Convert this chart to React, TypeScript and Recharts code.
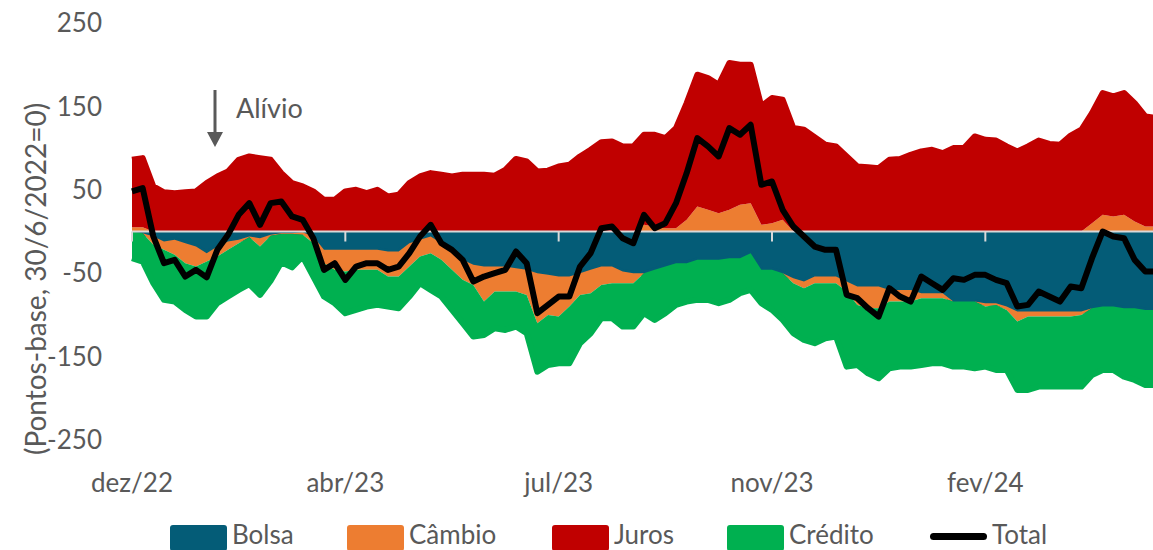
import { ComposedChart, Area, Line, XAxis, YAxis, ReferenceLine } from "recharts";

// Month labels sit every 20 points on the index axis
const TICK_INDEX = [0, 20, 40, 60, 80];
const TICK_LABELS = ["dez/22", "abr/23", "jul/23", "nov/23", "fev/24"];
const Y_TICKS = [-250, -150, -50, 50, 150, 250];

const BOLSA = [
  0, -2, -6, -12, -10, -14, -18, -26, -18, -12,
  -10, -6, -8, -4, -2, -2, -1, -6, -22, -22,
  -22, -22, -22, -22, -24, -24, -14, -10, -6, -14,
  -26, -34, -40, -42, -42, -42, -44, -46, -50, -52,
  -54, -54, -50, -46, -42, -42, -48, -50, -50, -46,
  -42, -38, -38, -34, -34, -34, -32, -32, -26, -46,
  -46, -50, -56, -60, -54, -54, -54, -60, -66, -66,
  -66, -70, -70, -70, -74, -74, -74, -84, -84, -84,
  -86, -86, -90, -96, -96, -96, -96, -96, -96, -96,
  -92, -90, -90, -92, -92, -94, -94,
];

const CAMBIO = [
  5, 5, -10, -10, -18, -24, -24, -10, -12, -10,
  -4, -1, -10, -1, -1, -1, -3, -8, -16, -24,
  -26, -24, -24, -24, -30, -30, -28, -20, -20, -20,
  -20, -24, -24, -42, -30, -30, -28, -30, -60, -48,
  -48, -36, -26, -28, -22, -20, -14, -12, 8, 6,
  4, 4, 14, 30, 26, 22, 26, 32, 34, 8,
  10, 14, -6, -8, -8, -8, -8, -12, -22, -26,
  -26, -14, -14, -14, -6, -6, -6, 0, 0, 0,
  -4, -2, -4, -12, -6, -6, -6, -6, -6, -4,
  10, 20, 18, 20, 12, 6, 6,
];

const JUROS = [
  81, 83, 54, 47, 46, 47, 48, 58, 66, 72,
  86, 90, 88, 86, 70, 58, 54, 48, 38, 38,
  48, 50, 46, 50, 42, 44, 58, 66, 70, 68,
  66, 68, 68, 68, 67, 74, 87, 84, 72, 73,
  78, 80, 90, 98, 107, 108, 102, 102, 108, 110,
  108, 120, 140, 158, 158, 154, 176, 168, 166, 142,
  150, 144, 124, 122, 113, 104, 102, 90, 78, 77,
  76, 86, 87, 92, 96, 98, 94, 100, 100, 114,
  110, 109, 102, 96, 102, 109, 105, 104, 115, 122,
  132, 146, 144, 146, 142, 132, 130,
];

const CREDITO = [
  -32, -34, -46, -60, -56, -56, -60, -66, -56, -56,
  -56, -56, -58, -54, -34, -40, -26, -40, -40, -40,
  -50, -48, -44, -42, -36, -38, -36, -32, -44, -44,
  -48, -52, -62, -40, -44, -46, -42, -46, -58, -60,
  -56, -68, -58, -48, -40, -42, -52, -52, -48, -60,
  -56, -50, -46, -48, -48, -52, -50, -42, -44, -40,
  -48, -56, -60, -62, -72, -66, -64, -90, -72, -78,
  -84, -80, -78, -78, -80, -78, -78, -78, -78, -80,
  -72, -78, -72, -82, -88, -84, -84, -84, -84, -86,
  -80, -76, -76, -82, -86, -90, -90,
];

const TOTAL = [
  48, 52, -6, -38, -34, -54, -46, -55, -22, -4,
  20, 34, 8, 34, 36, 18, 14, -8, -46, -38,
  -58, -42, -38, -38, -46, -42, -26, -6, 8, -14,
  -22, -34, -60, -54, -50, -46, -24, -38, -98, -88,
  -78, -78, -42, -26, 4, 6, -8, -14, 20, 4,
  10, 34, 70, 112, 102, 90, 124, 116, 128, 56,
  60, 26, 6, -6, -18, -22, -22, -76, -80, -92,
  -102, -68, -78, -84, -54, -62, -70, -56, -58, -52,
  -52, -58, -62, -90, -88, -72, -78, -84, -66, -68,
  -32, 0, -6, -8, -34, -48, -48,
];

// Câmbio is split by sign so it stacks above zero (under Juros) or below Bolsa
const NEG = -1e-6;
const data = TOTAL.map((total, i) => ({
  i,
  bolsa: Math.min(BOLSA[i], NEG),
  cambioPos: Math.max(CAMBIO[i], 0),
  cambioNeg: Math.min(CAMBIO[i], NEG),
  juros: JUROS[i],
  credito: CREDITO[i],
  total,
}));

const FONT = "Lato, 'Open Sans', sans-serif";
const TEXT = "#595959";
const C_BOLSA = "#045C77";
const C_CAMBIO = "#ED7D31";
const C_JUROS = "#C00000";
const C_CREDITO = "#00B050";

const AREAS = [
  { key: "bolsa", color: C_BOLSA, sw: 5 },
  { key: "cambioPos", color: C_CAMBIO, sw: 0 },
  { key: "cambioNeg", color: C_CAMBIO, sw: 0 },
  { key: "juros", color: C_JUROS, sw: 6 },
  { key: "credito", color: C_CREDITO, sw: 6 },
];

const LEGEND = [
  { name: "Bolsa", color: C_BOLSA, x: 170 },
  { name: "Câmbio", color: C_CAMBIO, x: 347 },
  { name: "Juros", color: C_JUROS, x: 552 },
  { name: "Crédito", color: C_CREDITO, x: 727 },
];

const labelStyle = {
  position: "absolute" as const,
  top: 521,
  fontSize: 26,
  lineHeight: "26px",
  color: TEXT,
  whiteSpace: "nowrap" as const,
};

export default function App() {
  return (
    <div
      style={{
        position: "absolute",
        left: 0,
        top: 0,
        width: 1153,
        height: 550,
        overflow: "hidden",
        background: "#fff",
        fontFamily: FONT,
      }}
    >
      <ComposedChart
        width={1156}
        height={500}
        data={data}
        stackOffset="sign"
        margin={{ top: 23, right: 0, left: 0, bottom: 0 }}
      >
        <XAxis
          dataKey="i"
          type="number"
          domain={[0, 96]}
          ticks={TICK_INDEX}
          tickFormatter={(v) => TICK_LABELS[TICK_INDEX.indexOf(v)] ?? ""}
          axisLine={false}
          tickLine={false}
          tickSize={0}
          tickMargin={34}
          height={60}
          tick={{ fill: TEXT, fontSize: 26, fontFamily: FONT }}
        />
        <YAxis
          type="number"
          domain={[-250, 250]}
          ticks={Y_TICKS}
          axisLine={false}
          tickLine={false}
          tickSize={0}
          tickMargin={30}
          width={132}
          tick={{ fill: TEXT, fontSize: 26, fontFamily: FONT }}
        />
        {AREAS.map((s) => (
          <Area
            key={s.key}
            dataKey={s.key}
            stackId="1"
            type="linear"
            fill={s.color}
            fillOpacity={1}
            stroke={s.sw ? s.color : "none"}
            strokeWidth={s.sw}
            strokeLinejoin="round"
            dot={false}
            activeDot={false}
            isAnimationActive={false}
          />
        ))}
        <ReferenceLine y={0} stroke="#D9D9D9" strokeWidth={2} />
        {TICK_INDEX.map((t) => (
          <ReferenceLine
            key={t}
            segment={[
              { x: t, y: 0 },
              { x: t, y: -12 },
            ]}
            stroke="#D9D9D9"
            strokeWidth={2}
          />
        ))}
        <Line
          dataKey="total"
          type="linear"
          stroke="#000"
          strokeWidth={6}
          strokeLinejoin="round"
          dot={false}
          activeDot={false}
          isAnimationActive={false}
        />
      </ComposedChart>

      <svg
        width={1153}
        height={550}
        style={{ position: "absolute", left: 0, top: 0, pointerEvents: "none" }}
      >
        <text
          x={46}
          y={279}
          transform="rotate(-90 46 279)"
          textAnchor="middle"
          fill={TEXT}
          fontSize={28}
          fontFamily={FONT}
        >
          (Pontos-base, 30/6/2022=0)
        </text>
        <line x1={215} y1={90} x2={215} y2={134} stroke={TEXT} strokeWidth={3} />
        <polygon points="207,132 223,132 215,147" fill={TEXT} />
        <text x={236} y={118} fill={TEXT} fontSize={27} fontFamily={FONT}>
          Alívio
        </text>
      </svg>

      {LEGEND.map((s) => (
        <div key={s.name}>
          <div
            style={{ position: "absolute", left: s.x, top: 525, width: 57, height: 26, background: s.color, borderRadius: 3 }}
          />
          <span style={{ ...labelStyle, left: s.x + 62 }}>{s.name}</span>
        </div>
      ))}
      <div style={{ position: "absolute", left: 930, top: 533, width: 57, height: 7, background: "#000", borderRadius: 4 }} />
      <span style={{ ...labelStyle, left: 992 }}>Total</span>
    </div>
  );
}
